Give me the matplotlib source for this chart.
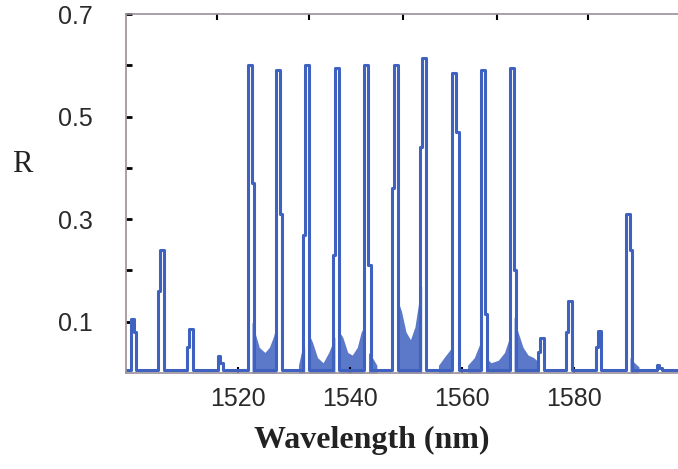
import matplotlib.pyplot as plt

# peaks: centre (nm), column width (nm), top R, shoulder R, shoulder side
peak_nm = [1501.1, 1506.4, 1511.6, 1516.6, 1522.1, 1527.1, 1532.3, 1537.7, 1542.9, 1548.2,
           1553.2, 1558.6, 1563.75, 1568.9, 1574.3, 1579.3, 1584.5, 1589.6, 1595.0]
peak_w = [0.5, 0.6, 0.6, 0.5, 0.75, 0.75, 0.75, 0.75, 0.75, 0.75,
          0.75, 0.75, 0.75, 0.75, 0.6, 0.6, 0.5, 0.7, 0.5]
peak_top = [0.105, 0.24, 0.086, 0.033, 0.60, 0.59, 0.60, 0.595, 0.60, 0.60,
            0.615, 0.585, 0.59, 0.595, 0.069, 0.14, 0.082, 0.31, 0.015]
peak_step = [0.08, 0.16, 0.05, 0.02, 0.37, 0.31, 0.27, 0.23, 0.21, 0.36,
             0.44, 0.47, 0.115, 0.20, 0.04, 0.08, 0.05, 0.24, 0.01]
peak_side = ["r", "l", "l", "r", "r", "r", "l", "l", "r", "l",
             "l", "r", "r", "r", "l", "l", "l", "r", "r"]
shoulder = 0.4
base = 0.006

# noisy floor between the channels
noise_x = [
    [1522.5, 1523.0, 1523.8, 1524.8, 1525.6, 1526.3, 1526.8],
    [1530.8, 1531.3, 1531.9],
    [1532.7, 1533.3, 1534.2, 1535.2, 1536.2, 1537.3],
    [1538.1, 1538.7, 1539.6, 1540.4, 1541.3, 1542.0, 1542.5],
    [1543.3, 1544.0, 1544.8],
    [1548.6, 1549.2, 1550.0, 1550.8, 1551.6, 1552.3, 1552.8],
    [1555.8, 1556.8, 1558.2],
    [1561.0, 1562.2, 1563.3],
    [1564.2, 1565.2, 1566.5, 1567.6, 1568.5],
    [1569.3, 1570.0, 1570.9, 1571.8, 1572.8, 1573.8],
    [1590.0, 1590.8, 1591.6],
]
noise_top = [
    [0.10, 0.08, 0.05, 0.04, 0.05, 0.07, 0.09],
    [0.015, 0.04, 0.05],
    [0.075, 0.06, 0.03, 0.02, 0.04, 0.07],
    [0.08, 0.07, 0.04, 0.035, 0.05, 0.08, 0.09],
    [0.04, 0.03, 0.015],
    [0.14, 0.12, 0.08, 0.065, 0.09, 0.14, 0.17],
    [0.015, 0.03, 0.05],
    [0.015, 0.03, 0.06],
    [0.03, 0.02, 0.025, 0.04, 0.07],
    [0.11, 0.08, 0.05, 0.035, 0.03, 0.02],
    [0.03, 0.02, 0.012],
]

y_major = [0.1, 0.3, 0.5, 0.7]
y_minor = [0.2, 0.4, 0.6]
x_ticks = [1520, 1540, 1560, 1580]
top_ticks = [1516.3, 1532.7, 1549.5, 1566.3, 1582.5]

blue = "#3f62c0"

xs, ys = [1500.0], [base]
for c, w, t, s, side in zip(peak_nm, peak_w, peak_top, peak_step, peak_side):
    l, r = c - w / 2, c + w / 2
    if side == "r":
        xs += [l, l, r, r, r + shoulder, r + shoulder]
        ys += [base, t, t, s, s, base]
    else:
        xs += [l - shoulder, l - shoulder, l, l, r, r]
        ys += [base, s, s, t, t, base]
xs.append(1600.0)
ys.append(base)

fig = plt.figure(figsize=(6.78, 4.69), dpi=100)
ax = fig.add_axes([126 / 678, 1 - 373 / 469, 560 / 678, 359 / 469])

for nx, ny in zip(noise_x, noise_top):
    ax.fill_between(nx, 0, ny, color=blue, alpha=0.85, lw=0)
ax.plot(xs, ys, color=blue, lw=2.2)

ax.set_xlim(1500, 1600)
ax.set_ylim(0, 0.7)
ax.set_xticks(x_ticks)
ax.set_yticks(y_major)
ax.set_yticks(y_minor, minor=True)
ax.set_yticklabels([str(v) for v in y_major])

for lab in ax.get_xticklabels() + ax.get_yticklabels():
    lab.set_fontfamily("Liberation Sans")
    lab.set_fontsize(18)
    lab.set_color("#2a2a2a")

ax.tick_params(axis="y", which="both", direction="in", length=4, width=2, pad=24, right=True)
ax.tick_params(axis="x", direction="in", length=4, width=1.5, pad=10)

sec = ax.secondary_xaxis("top")
sec.set_xticks(top_ticks)
sec.set_xticklabels([])
sec.tick_params(direction="in", length=4, width=1.5)
sec.spines["top"].set_visible(False)

for side in ["left", "top", "bottom"]:
    ax.spines[side].set_color("#9a8f98")
    ax.spines[side].set_linewidth(1.2)
ax.spines["right"].set_visible(False)

fig.text(372 / 678, 1 - 440 / 469, "Wavelength (nm)", family="Liberation Serif",
         fontweight="bold", fontsize=23, ha="center", va="center", color="#222222")
fig.text(22 / 678, 1 - 165 / 469, "R", family="Liberation Serif",
         fontsize=22, ha="center", va="center", color="#222222")

plt.savefig("out.png", dpi=100)
